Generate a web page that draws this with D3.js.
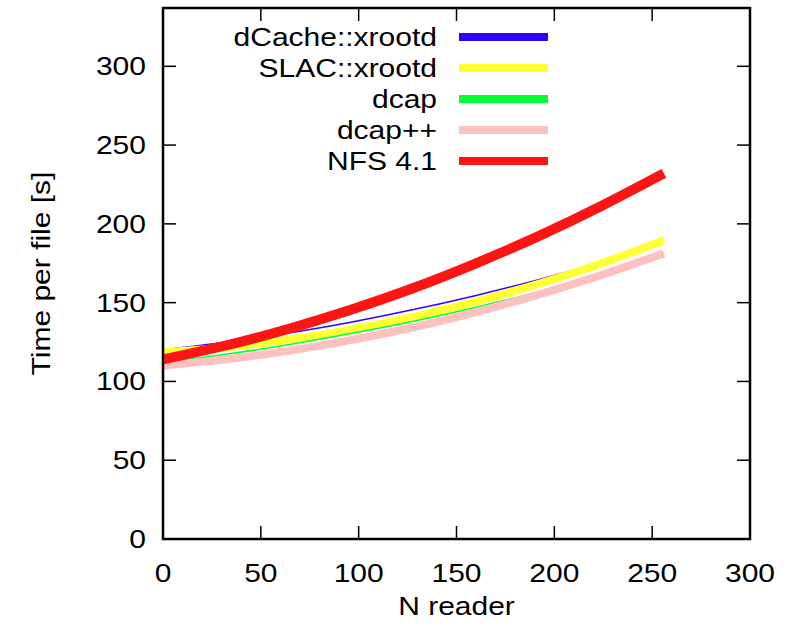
<!DOCTYPE html>
<html>
<head>
<meta charset="utf-8">
<script src="https://cdn.jsdelivr.net/npm/d3@7"></script>
<style>
  body { margin: 0; background: #fff; }
  text { font-family: "Liberation Sans", Arial, Helvetica, sans-serif; fill: #000; }
</style>
</head>
<body>
<svg id="chart" width="801" height="630"></svg>
<script>
// ----------------- DATA ----------------- //
var nReader = [0, 32, 64, 96, 128, 160, 192, 224, 256];

var dcacheXrootd = [120, 124.8, 130.7, 137.6, 145.6, 154.6, 164.6, 175.8, 188];
var slacXrootd   = [118.5, 121.6, 126.5, 132.9, 141, 150.6, 162, 174.9, 189.6];
var dcap         = [112, 117.2, 123.3, 130.4, 138.2, 147.1, 156.8, 167.5, 179];
var dcapPP       = [110, 114, 119.4, 126.2, 134.4, 144, 155.1, 167.5, 181.4];
var nfs41        = [114, 122.8, 133.3, 145.5, 159.3, 175, 192.2, 211.3, 232];

var seriesNames = ['dCache::xrootd', 'SLAC::xrootd', 'dcap', 'dcap++', 'NFS 4.1'];
var xTicks = [0, 50, 100, 150, 200, 250, 300];
var yTicks = [0, 50, 100, 150, 200, 250, 300];

var series = [
    { name: seriesNames[0], values: dcacheXrootd, color: '#3300ff', width: 1.5 },
    { name: seriesNames[1], values: slacXrootd,   color: '#ffff33', width: 8 },
    { name: seriesNames[2], values: dcap,         color: '#00ff33', width: 1.5 },
    { name: seriesNames[3], values: dcapPP,       color: '#ffc0c0', width: 8 },
    { name: seriesNames[4], values: nfs41,        color: '#ff1414', width: 10 }
];

// ----------------- LAYOUT ----------------- //
var plotLeft = 163, plotRight = 750, plotTop = 8, plotBottom = 539;
var fontSize = 25, stretch = 1.2;

var svg = d3.select('#chart');

var x = d3.scaleLinear().domain([0, 300]).range([plotLeft, plotRight]);
var y = d3.scaleLinear().domain([0, 337]).range([plotBottom, plotTop]);

// wide helvetica look: scale text along its direction
function label(g, px, py, str, anchor, rot) {
    return g.append('text')
        .attr('transform', 'translate(' + px + ',' + py + ')' + (rot ? ' rotate(' + rot + ')' : '') + ' scale(' + stretch + ',1)')
        .attr('text-anchor', anchor)
        .attr('font-size', fontSize)
        .text(str);
}

// ----------------- CURVES ----------------- //
var line = d3.line()
    .x((d, i) => x(nReader[i]))
    .y(d => y(d))
    .curve(d3.curveNatural);

svg.append('g').selectAll('path')
    .data(series)
    .join('path')
    .attr('d', d => line(d.values))
    .attr('fill', 'none')
    .attr('stroke', d => d.color)
    .attr('stroke-width', d => d.width);

// ----------------- AXES ----------------- //
var tickLen = 13;
var axes = svg.append('g').attr('stroke', '#000').attr('stroke-width', 1.5);

axes.selectAll('.xb').data(xTicks).join('line')
    .attr('x1', d => x(d)).attr('x2', d => x(d))
    .attr('y1', plotBottom).attr('y2', plotBottom - tickLen);
axes.selectAll('.xt').data(xTicks).join('line')
    .attr('x1', d => x(d)).attr('x2', d => x(d))
    .attr('y1', plotTop).attr('y2', plotTop + tickLen);
axes.selectAll('.yl').data(yTicks).join('line')
    .attr('x1', plotLeft).attr('x2', plotLeft + tickLen)
    .attr('y1', d => y(d)).attr('y2', d => y(d));
axes.selectAll('.yr').data(yTicks).join('line')
    .attr('x1', plotRight).attr('x2', plotRight - tickLen)
    .attr('y1', d => y(d)).attr('y2', d => y(d));

svg.append('rect')
    .attr('x', plotLeft).attr('y', plotTop)
    .attr('width', plotRight - plotLeft).attr('height', plotBottom - plotTop)
    .attr('fill', 'none').attr('stroke', '#000').attr('stroke-width', 2.5);

var labels = svg.append('g');
xTicks.forEach(function (t) { label(labels, x(t), 582, t, 'middle'); });
yTicks.forEach(function (t) { label(labels, 146, y(t) + 9, t, 'end'); });

label(labels, (plotLeft + plotRight) / 2, 615, 'N reader', 'middle');
label(labels, 50, (plotTop + plotBottom) / 2, 'Time per file [s]', 'middle', -90);

// ----------------- LEGEND ----------------- //
var legend = svg.append('g');
series.forEach(function (s, i) {
    var ly = 37 + i * 31;
    label(legend, 437, ly + 9, s.name, 'end');
    legend.append('line')
        .attr('x1', 459).attr('x2', 548)
        .attr('y1', ly).attr('y2', ly)
        .attr('stroke', s.color)
        .attr('stroke-width', 8);
});
</script>
</body>
</html>
